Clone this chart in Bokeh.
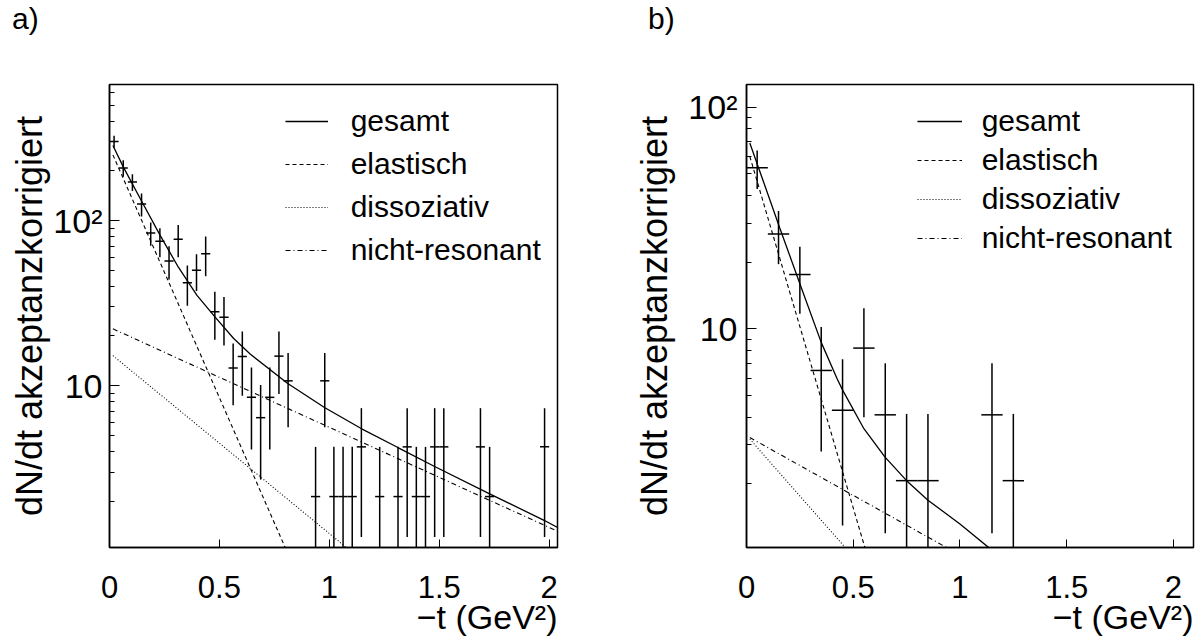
from bokeh.plotting import figure
from bokeh.layouts import row, column
from bokeh.models import (Range1d, FixedTicker, Legend, LegendItem, Title, Div,
                          CustomJSTickFormatter)
from bokeh.embed import file_html
from bokeh.resources import INLINE

FONT = "Liberation Sans"

# ---------------- panel a) data ----------------
a_t = [0.0208, 0.0625, 0.1042, 0.1458, 0.1875, 0.2292, 0.2708, 0.3125, 0.3542, 0.3958,
       0.4375, 0.4792, 0.5208, 0.5625, 0.6042, 0.6458, 0.6875, 0.7292, 0.7708, 0.8125,
       0.9375, 0.9792, 1.0208, 1.0625, 1.1042, 1.1458, 1.2292, 1.3125, 1.3542, 1.3958,
       1.4375, 1.4792, 1.5208, 1.6875, 1.7292, 1.9792]
a_y = [301, 208, 171, 126, 84, 75, 57, 77, 42, 50,
       63, 28, 26, 12.8, 15, 8.5, 6.4, 8.5, 15.1, 10.7,
       2.13, 10.7, 2.13, 2.13, 2.13, 4.26, 2.13, 2.13, 4.26, 2.13,
       2.13, 4.26, 4.26, 4.26, 2.13, 4.26]
a_err = [25, 24, 20, 20, 13.5, 15, 13, 17, 11.5, 12.5,
         17, 9, 8.5, 5.2, 6.3, 4.4, 3.7, 4.4, 6.2, 5.1,
         2.13, 5.1, 2.13, 2.13, 2.13, 3.05, 2.13, 2.13, 3.05, 2.13,
         2.13, 3.05, 3.05, 3.05, 2.13, 3.05]
a_bin = 1.0 / 24

a_tot_t = [0.0155, 0.0638, 0.1476, 0.231, 0.314, 0.398, 0.4815, 0.565, 0.641,
           0.811, 0.978, 1.145, 1.312, 1.479, 1.727, 1.977, 2.04]
a_tot_y = [285, 210, 130, 81, 52, 35.2, 25.9, 19.3, 15.5,
           10.3, 7.38, 5.5, 4.22, 3.24, 2.22, 1.53, 1.38]
a_el_t, a_el_y = [0.0155, 0.80], [250, 1.04]
a_di_t, a_di_y = [0.0155, 1.08], [15.2, 1.04]
a_nr_t, a_nr_y = [0.0155, 2.04], [22.1, 1.31]

# ---------------- panel b) data ----------------
b_t = [0.05, 0.15, 0.25, 0.35, 0.45, 0.55, 0.65, 0.75, 0.85, 1.15, 1.25]
b_y = [53.3, 26.8, 17.6, 6.5, 4.3, 8.2, 4.1, 2.07, 2.07, 4.1, 2.07]
b_err = [10.5, 7.2, 5.9, 3.7, 3.0, 4.2, 2.9, 2.07, 2.07, 2.9, 2.07]
b_bin = 0.1

b_tot_t = [0.0155, 0.155, 0.25, 0.35, 0.425, 0.4516, 0.55, 0.648, 0.75, 0.85, 1.0, 1.136]
b_tot_y = [69, 28.7, 16, 8.7, 5.95, 5.27, 3.55, 2.65, 2.07, 1.69, 1.32, 1.03]
b_el_t, b_el_y = [0.0155, 0.555], [60, 1.03]
b_di_t, b_di_y = [0.0155, 0.464], [3.19, 1.03]
b_nr_t, b_nr_y = [0.0155, 0.94], [3.24, 1.03]

legend_labels = ["gesamt", "elastisch", "dissoziativ", "nicht-resonant"]
x_ticks = [0, 0.5, 1, 1.5, 2]
y_major = [10, 100]
y_minor = [m * 10 ** e for e in (0, 1, 2) for m in range(2, 10)]
x_title = "\u2212t (GeV\u00b2)"
y_title = "dN/dt akzeptanzkorrigiert"


def make_panel(t, y, err, binw, curves, xmax, yr, width, left, right,
               leg_x, leg_y, leg_gw, leg_so, leg_sp, ytick_so, ylab_so):
    p = figure(width=width, height=601, x_range=Range1d(0, xmax), y_range=Range1d(*yr),
               y_axis_type="log", output_backend="svg", toolbar_location=None,
               min_border_left=left, min_border_right=right,
               min_border_top=44, min_border_bottom=94)
    p.grid.visible = False
    p.outline_line_color = "black"
    p.outline_line_width = 1.5
    p.background_fill_color = "white"
    p.border_fill_color = "white"

    ax = p.xaxis[0]
    ax.ticker = FixedTicker(ticks=x_ticks, minor_ticks=[])
    ax.formatter = CustomJSTickFormatter(code="return tick.toString()")
    ax.major_tick_in = 8
    ax.major_tick_out = 0
    ax.minor_tick_line_color = None
    ax.axis_line_width = 1.5
    ax.major_label_text_font = FONT
    ax.major_label_text_font_size = "31px"
    ax.major_label_standoff = 28
    ax.major_label_text_color = "black"

    ay = p.yaxis[0]
    ay.ticker = FixedTicker(ticks=y_major, minor_ticks=y_minor)
    ay.formatter = CustomJSTickFormatter(
        code="return Math.round(Math.log10(tick)) >= 2 ? '10\u00b2' : '10';")
    ay.major_tick_in = 10
    ay.major_tick_out = 0
    ay.minor_tick_in = 5
    ay.minor_tick_out = 0
    ay.axis_line_width = 1.5
    ay.major_label_text_font = FONT
    ay.major_label_text_font_size = "34px"
    ay.major_label_text_color = "black"
    ay.major_label_standoff = ytick_so
    ay.axis_label = y_title
    ay.axis_label_text_font = FONT
    ay.axis_label_text_font_size = "36px"
    ay.axis_label_text_font_style = "normal"
    ay.axis_label_text_color = "black"
    ay.axis_label_standoff = ylab_so

    p.add_layout(Title(text=x_title, align="right", text_font=FONT, text_font_size="34px",
                       text_font_style="normal", text_color="black", standoff=-9, offset=0),
                 "below")

    ylo = yr[0]
    lo = [max(v - e, ylo) for v, e in zip(y, err)]
    hi = [v + e for v, e in zip(y, err)]
    p.segment(x0=t, y0=lo, x1=t, y1=hi, line_color="black", line_width=1.5)
    p.segment(x0=[v - binw / 2 for v in t], y0=y, x1=[v + binw / 2 for v in t], y1=y,
              line_color="black", line_width=1.5)

    dashes = ["solid", "4 3", "1 2", "5 3 1 3"]
    widths = [1.3, 1.1, 1.1, 1.1]
    rends = []
    for (ct, cy), d, w in zip(curves, dashes, widths):
        rends.append(p.line(ct, cy, line_color="black", line_width=w, line_dash=d))

    leg = Legend(items=[LegendItem(label=lab, renderers=[r]) for lab, r in zip(legend_labels, rends)],
                 location=(leg_x, leg_y), orientation="vertical",
                 glyph_width=leg_gw, glyph_height=34, label_height=34,
                 label_standoff=leg_so, spacing=leg_sp, padding=0, margin=0,
                 border_line_alpha=0, background_fill_alpha=0,
                 label_text_font=FONT, label_text_font_size="30px",
                 label_text_color="black")
    p.add_layout(leg)
    return p


def tag_div(text, left_px, width):
    html = ('<div style="margin-left:%dpx; margin-top:2px; font-family:\'%s\'; '
            'font-size:30px; line-height:34px; color:black;">%s</div>' % (left_px, FONT, text))
    return Div(text=html, width=width, height=40, margin=0)


pa = make_panel(a_t, a_y, a_err, a_bin,
                [(a_tot_t, a_tot_y), (a_el_t, a_el_y), (a_di_t, a_di_y), (a_nr_t, a_nr_y)],
                2.038, (1.047, 667), 600, 109, 43,
                175.7, 280, 43, 23, 9, 7, 0)

pb = make_panel(b_t, b_y, b_err, b_bin,
                [(b_tot_t, b_tot_y), (b_el_t, b_el_y), (b_di_t, b_di_y), (b_nr_t, b_nr_y)],
                2.094, (1.034, 126.6), 601, 146, 8,
                170.7, 292, 45, 20, 5, 9, 10)

layout = row(column(tag_div("a)", 12, 600), pa, spacing=0),
             column(tag_div("b)", 48, 601), pb, spacing=0), spacing=0)
open("out.html", "w").write(file_html(layout, INLINE))
